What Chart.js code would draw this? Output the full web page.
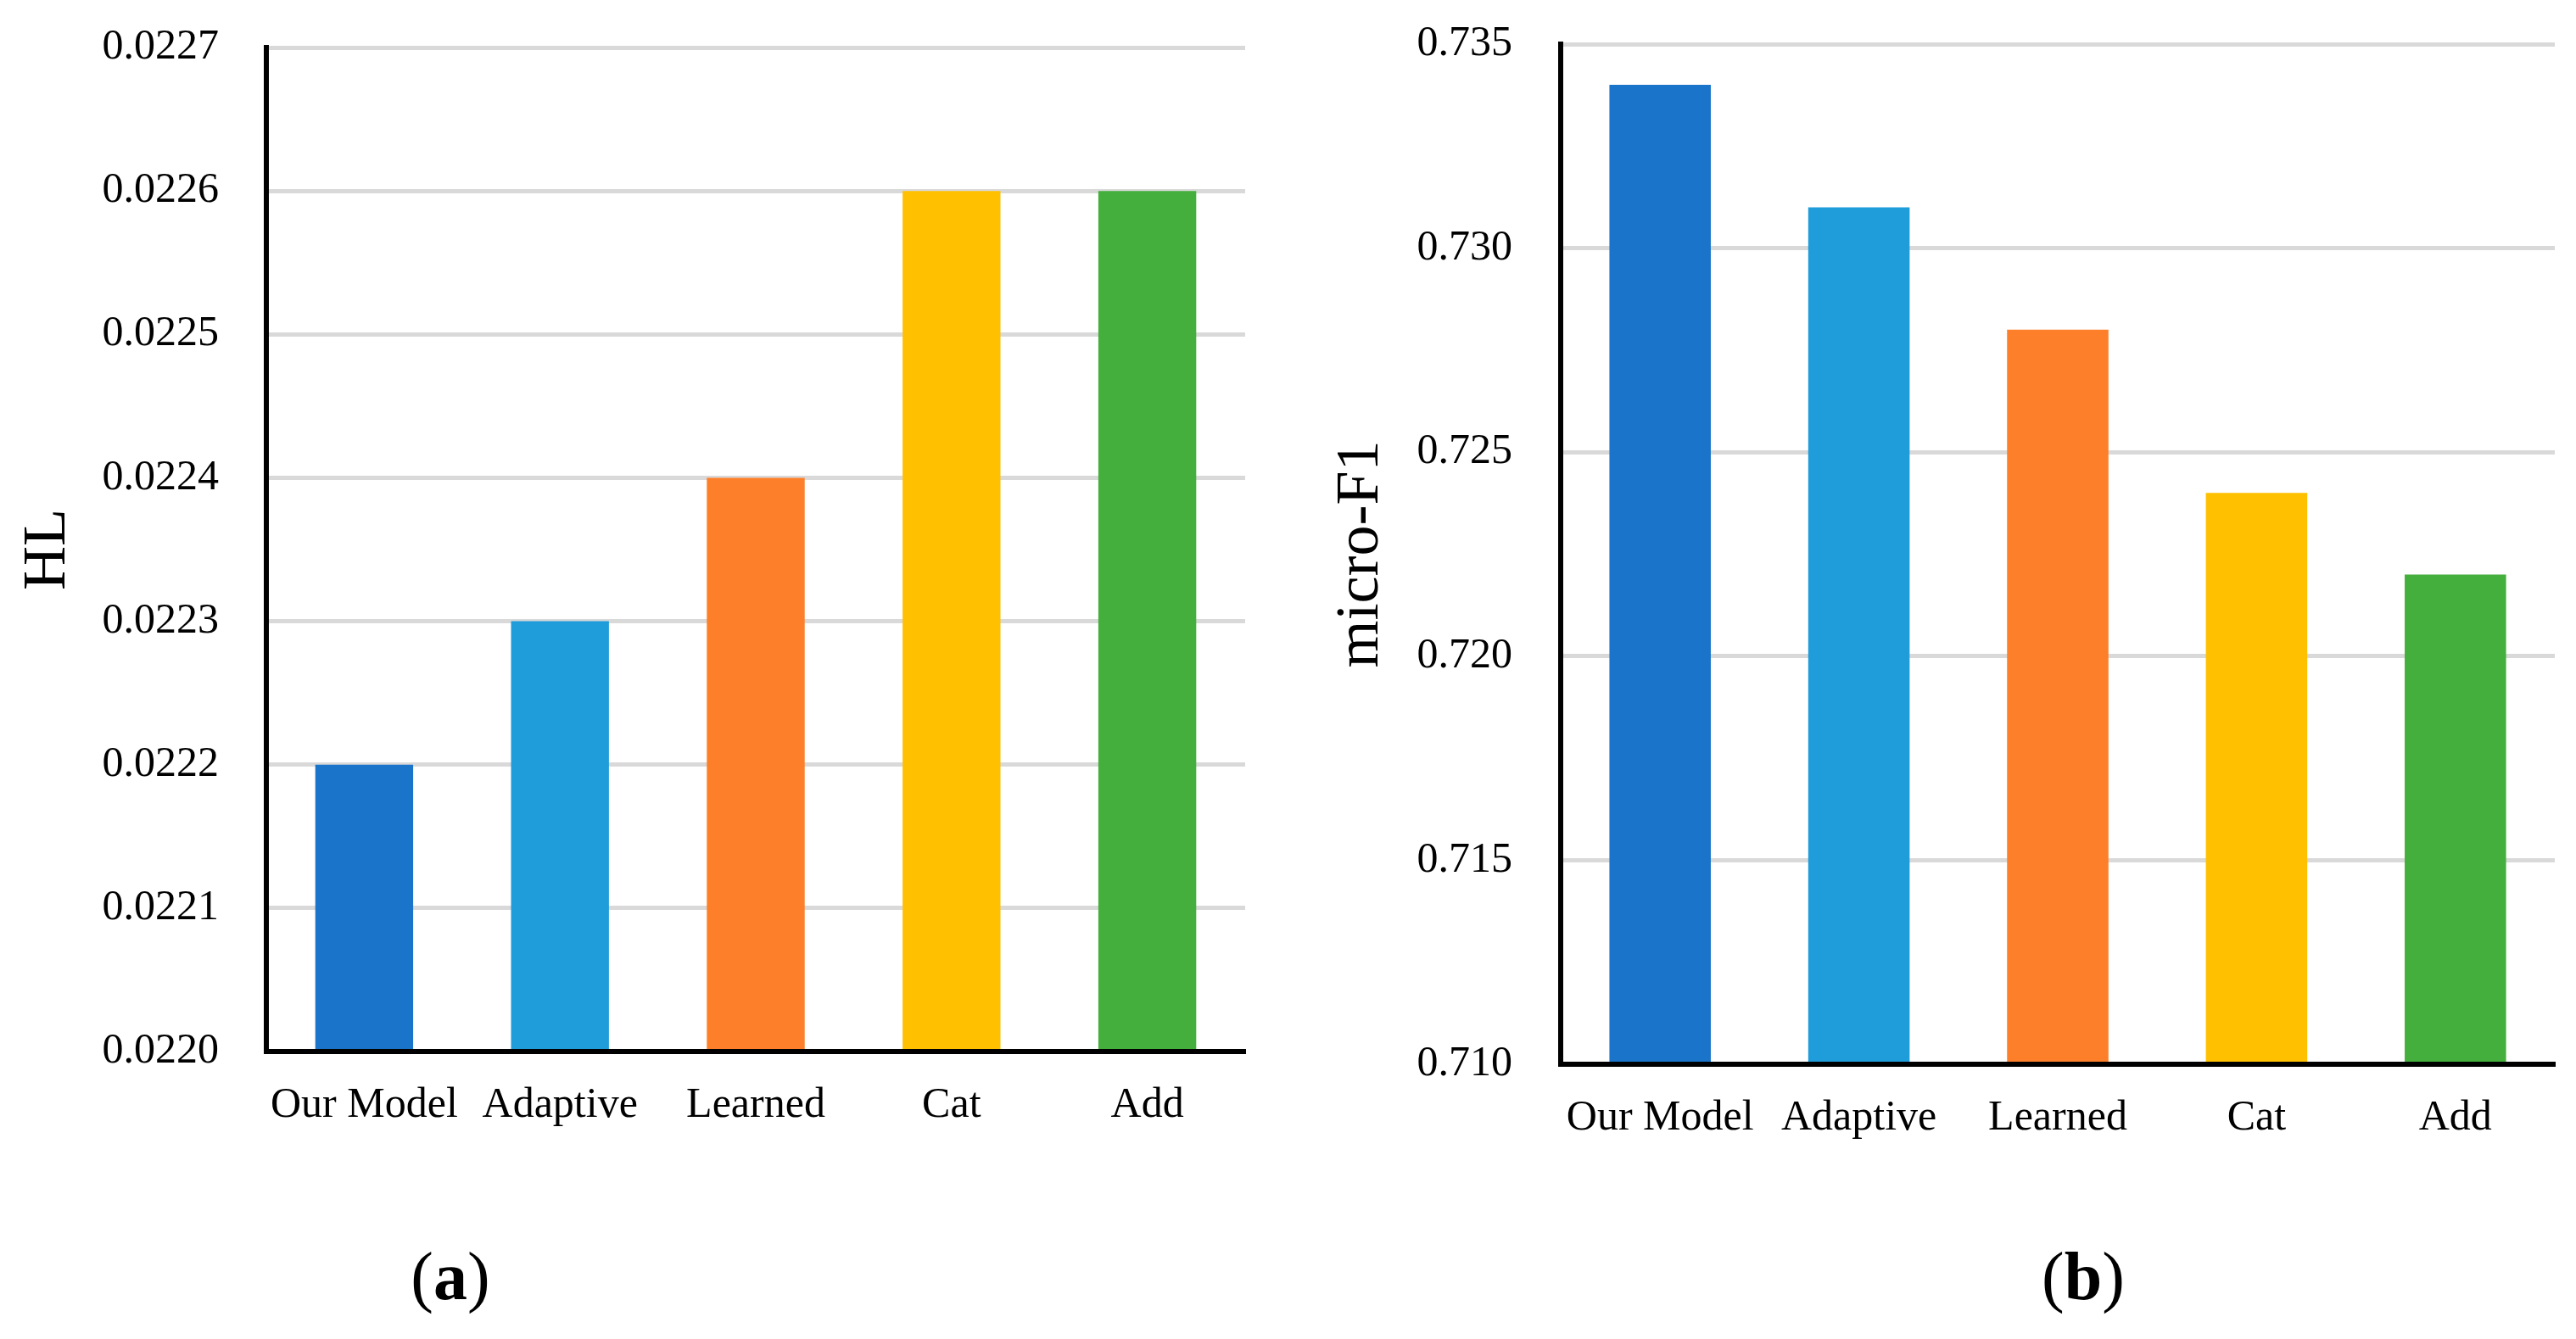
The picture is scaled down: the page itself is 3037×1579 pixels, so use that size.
<!DOCTYPE html>
<html>
<head>
<meta charset="utf-8">
<script src="https://cdn.jsdelivr.net/npm/chart.js@4.4.1/dist/chart.umd.min.js"></script>
<style>
  html, body { margin: 0; padding: 0; background: #ffffff; }
  body { width: 3037px; height: 1579px; position: relative; overflow: hidden; }
  canvas { position: absolute; top: 0; }
  #cA { left: 0px; }
  #cB { left: 1520px; }
  .cap { position: absolute; width: 300px; text-align: center; font-family: 'Liberation Serif', 'Times New Roman', serif;
         font-size: 80px; line-height: 80px; color: #000; top: 1465px; }
</style>
</head>
<body>
<canvas id="cA" width="1520" height="1420"></canvas>
<canvas id="cB" width="1517" height="1420"></canvas>
<div class="cap" style="left:381px;">(<b>a</b>)</div>
<div class="cap" style="left:2306px;">(<b>b</b>)</div>
<script>
// ---- data ----
const categories = ['Our Model', 'Adaptive', 'Learned', 'Cat', 'Add'];
const hlValues = [0.0222, 0.0223, 0.0224, 0.0226, 0.0226];
const f1Values = [0.734, 0.731, 0.728, 0.724, 0.722];
const hlTicks = [0.0220, 0.0221, 0.0222, 0.0223, 0.0224, 0.0225, 0.0226, 0.0227];
const f1Ticks = [0.710, 0.715, 0.720, 0.725, 0.730, 0.735];
const hlTitle = 'HL';
const f1Title = 'micro-F1';
const barColors = ['#1A75CA', '#1F9DDA', '#FE7F2A', '#FFC000', '#44AF3C'];

const FONT = "'Liberation Serif', 'Times New Roman', serif";

function makeChart(id, values, ticks, decimals, title, cfg) {
  return new Chart(document.getElementById(id), {
    type: 'bar',
    data: {
      labels: categories,
      datasets: [{ data: values, backgroundColor: barColors, borderWidth: 0,
                   barPercentage: 1.0, categoryPercentage: cfg.catPct }]
    },
    options: {
      responsive: false,
      animation: false,
      devicePixelRatio: 1,
      layout: { padding: { top: cfg.top, right: cfg.right, bottom: 0, left: 0 } },
      plugins: { legend: { display: false }, tooltip: { enabled: false } },
      scales: {
        x: {
          grid: { display: false },
          border: { display: true, color: '#000000', width: 6, z: 1 },
          ticks: { color: '#000000', padding: cfg.xPad, font: { family: FONT, size: 50 }, maxRotation: 0 },
          afterFit: (s) => { s.height = cfg.xHeight; s.paddingLeft = 0; s.paddingRight = 0; }
        },
        y: {
          min: ticks[0],
          max: ticks[ticks.length - 1],
          afterBuildTicks: (s) => { s.ticks = ticks.map(v => ({ value: v })); },
          grid: { color: '#D9D9D9', lineWidth: 5, drawTicks: false },
          border: { display: true, color: '#000000', width: 6 },
          ticks: { color: '#000000', padding: cfg.yPad, font: { family: FONT, size: 50 },
                   callback: (v) => Number(v).toFixed(decimals) },
          title: { display: true, text: title, color: '#000000',
                   font: { family: FONT, size: 72 }, padding: { top: cfg.titlePad, bottom: 0 } },
          afterFit: (s) => { s.width = cfg.yWidth; s.paddingTop = 0; s.paddingBottom = 0; }
        }
      }
    }
  });
}

makeChart('cA', hlValues, hlTicks, 4, hlTitle,
  { top: 56, right: 52, xHeight: 180, yWidth: 314, yPad: 56, xPad: 26, titlePad: 14, catPct: 0.5 });
makeChart('cB', f1Values, f1Ticks, 3, f1Title,
  { top: 52, right: 25, xHeight: 165, yWidth: 320, yPad: 57, xPad: 26, titlePad: 42, catPct: 0.51 });
</script>
</body>
</html>
